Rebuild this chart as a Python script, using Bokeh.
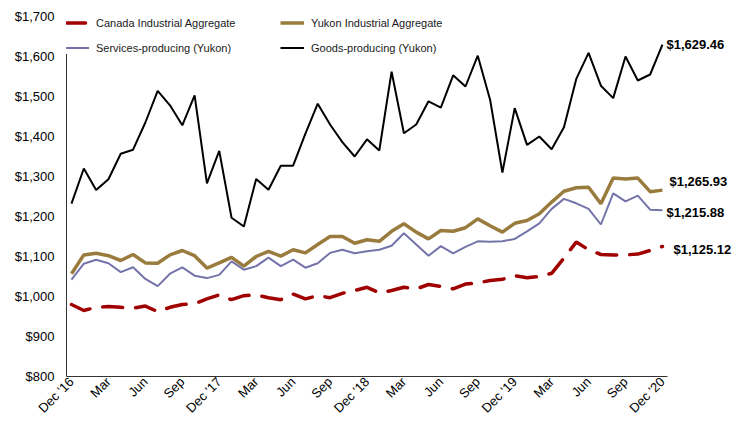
import math
from bokeh.plotting import figure
from bokeh.models import (ColumnDataSource, FixedTicker, NumeralTickFormatter,
                          Legend, LegendItem, Label)
from bokeh.embed import file_html
from bokeh.resources import INLINE

# ---------------- data ----------------
month_labels = (["Dec '16"] +
                ["Jan", "Feb", "Mar", "Apr", "May", "Jun", "Jul", "Aug", "Sep", "Oct", "Nov", "Dec '17"] +
                ["Jan", "Feb", "Mar", "Apr", "May", "Jun", "Jul", "Aug", "Sep", "Oct", "Nov", "Dec '18"] +
                ["Jan", "Feb", "Mar", "Apr", "May", "Jun", "Jul", "Aug", "Sep", "Oct", "Nov", "Dec '19"] +
                ["Jan", "Feb", "Mar", "Apr", "May", "Jun", "Jul", "Aug", "Sep", "Oct", "Nov", "Dec '20"])

canada = [980,
          965, 973, 975, 973, 971, 976, 962, 973, 980, 982, 994, 1004,
          992, 1002, 1004, 997, 992, 1006, 994, 1002, 997, 1008, 1015, 1023,
          1009, 1015, 1023, 1019, 1030, 1025, 1019, 1031, 1034, 1040, 1043, 1052,
          1047, 1050, 1058, 1096, 1136, 1117, 1105, 1104, 1104, 1106, 1115, 1125.12]

yukon = [1057,
         1104, 1108, 1102, 1090, 1105, 1084, 1083, 1104, 1115, 1102, 1071, 1084,
         1098, 1076, 1100, 1113, 1101, 1117, 1109, 1130, 1150, 1150, 1133, 1142,
         1138, 1163, 1182, 1161, 1144, 1165, 1163, 1172, 1194, 1177, 1161, 1183,
         1190, 1207, 1236, 1263, 1272, 1273, 1232, 1296, 1294, 1296, 1262, 1265.93]

services = [1042,
            1082, 1092, 1083, 1061, 1073, 1044, 1026, 1057, 1073, 1052, 1046, 1054,
            1088, 1067, 1076, 1097, 1076, 1092, 1072, 1083, 1109, 1117, 1108, 1113,
            1117, 1127, 1158, 1130, 1102, 1126, 1108, 1124, 1138, 1137, 1138, 1144,
            1163, 1183, 1219, 1244, 1233, 1219, 1180, 1258, 1238, 1252, 1217, 1215.88]

goods = [1232,
         1320, 1266, 1293, 1357, 1367, 1435, 1514, 1478, 1428, 1503, 1283, 1364,
         1197, 1175, 1294, 1267, 1327, 1327, 1407, 1482, 1430, 1386, 1350, 1393,
         1365, 1562, 1408, 1430, 1488, 1472, 1553, 1525, 1602, 1492, 1310, 1471,
         1379, 1400, 1368, 1423, 1544, 1609, 1527, 1496, 1600, 1540, 1555, 1629.46]

series_names = ["Canada Industrial Aggregate", "Yukon Industrial Aggregate",
                "Services-producing (Yukon)", "Goods-producing (Yukon)"]
y_ticks = [800, 900, 1000, 1100, 1200, 1300, 1400, 1500, 1600, 1700]

# ---------------- figure ----------------
x = list(range(len(month_labels)))
src = ColumnDataSource(dict(x=x, canada=canada, yukon=yukon, services=services, goods=goods))

FONT = "Liberation Sans"
X0, X1 = -0.406, len(x) - 1 + 0.406      # span of the visible x axis line
X_END = 53.69                            # extra room on the right for end labels

p = figure(width=732, height=428, x_range=(X0, X_END), y_range=(800, 1700),
           output_backend="svg", toolbar_location=None,
           min_border_left=66, min_border_right=0, min_border_top=16, min_border_bottom=52)
p.background_fill_color = "white"
p.border_fill_color = "white"
p.outline_line_color = None
p.xgrid.visible = False
p.ygrid.visible = False

p.yaxis.ticker = FixedTicker(ticks=y_ticks)
p.yaxis.formatter = NumeralTickFormatter(format="$0,0")
p.yaxis.major_tick_line_color = None
p.yaxis.minor_tick_line_color = None
p.yaxis.major_tick_out = 0
p.yaxis.major_tick_in = 0
p.yaxis.axis_line_color = "#333333"
p.yaxis.major_label_standoff = 12
p.yaxis.major_label_text_font = FONT
p.yaxis.major_label_text_font_size = "13px"
p.yaxis.major_label_text_color = "black"

tick_idx = [i for i in x if i % 3 == 0]
p.xaxis.ticker = FixedTicker(ticks=tick_idx)
p.xaxis.major_label_overrides = {i: month_labels[i] for i in tick_idx}
p.xaxis.major_label_orientation = math.pi / 4
p.xaxis.major_tick_line_color = None
p.xaxis.minor_tick_line_color = None
p.xaxis.major_tick_out = 0
p.xaxis.major_tick_in = 0
p.xaxis.bounds = (X0, X1)
p.xaxis.axis_line_color = "#333333"
p.xaxis.major_label_standoff = 3
p.xaxis.major_label_text_font = FONT
p.xaxis.major_label_text_font_size = "13px"
p.xaxis.major_label_text_color = "black"

r_can = p.line("x", "canada", source=src, line_color="#A00000", line_width=3.5,
               line_dash="20 13", line_cap="round")
r_yuk = p.line("x", "yukon", source=src, line_color="#9A7B3E", line_width=3.5)
r_srv = p.line("x", "services", source=src, line_color="#7474AA", line_width=2)
r_gds = p.line("x", "goods", source=src, line_color="black", line_width=2)

legend = Legend(items=[LegendItem(label=series_names[0], renderers=[r_can]),
                       LegendItem(label=series_names[1], renderers=[r_yuk]),
                       LegendItem(label=series_names[2], renderers=[r_srv]),
                       LegendItem(label=series_names[3], renderers=[r_gds])],
                ncols=2, orientation="horizontal", location=(-1, 322),
                label_text_font=FONT, label_text_font_size="11px",
                label_text_color="#1a1a1a",
                glyph_width=24, glyph_height=13, label_height=13, label_width=172,
                label_standoff=7, spacing=12, padding=15, margin=0,
                border_line_color=None, background_fill_color="white",
                background_fill_alpha=1.0)
p.add_layout(legend)

last = len(x) - 1
end_labels = [(goods[last], 4, 0), (yukon[last], 7, 9), (services[last], 4, -2), (canada[last], 11, -3)]
for val, dx, dy in end_labels:
    p.add_layout(Label(x=last, y=val, x_offset=dx, y_offset=dy,
                       text="${:,.2f}".format(val), text_font=FONT,
                       text_font_size="13px", text_font_style="bold",
                       text_baseline="middle", text_align="left", text_color="black"))

open("out.html", "w").write(file_html(p, INLINE))
